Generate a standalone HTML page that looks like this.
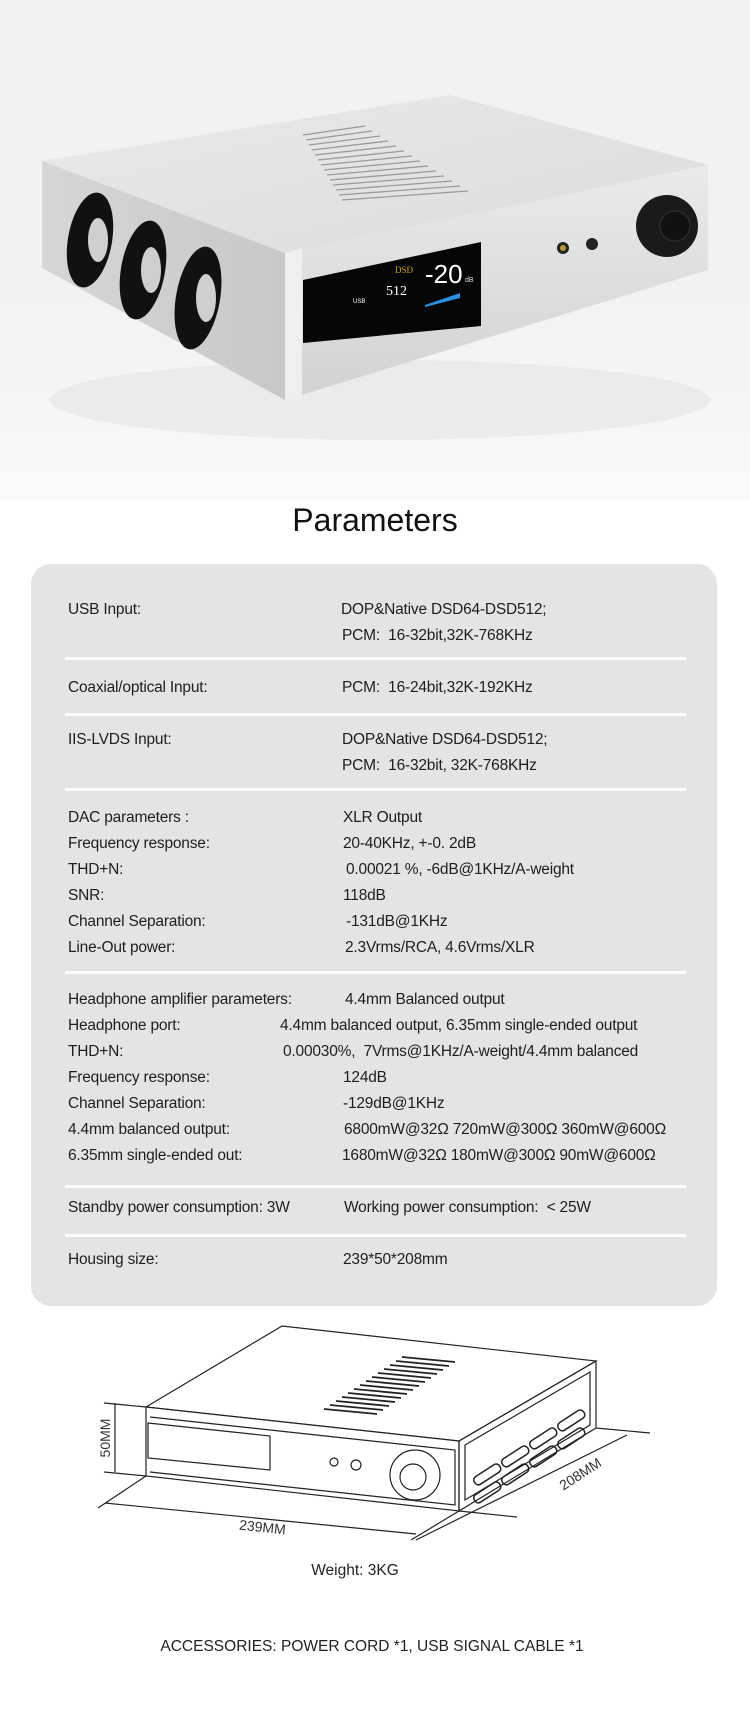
<!DOCTYPE html>
<html><head><meta charset="utf-8">
<style>
html,body{margin:0;padding:0;}
body{width:750px;height:1726px;position:relative;background:#fff;font-family:"Liberation Sans",sans-serif;color:#222;overflow:hidden;}
.hero{position:absolute;left:0;top:0;width:750px;height:500px;background:linear-gradient(#f1f1f1,#f3f3f3 70%,#fafafa);}
.title{position:absolute;left:0;width:750px;top:502px;text-align:center;font-size:32px;color:#111;}
.card{position:absolute;left:31px;top:564px;width:686px;height:742px;background:#e4e4e4;border-radius:20px;}
.t{position:absolute;font-size:15.5px;color:#1e1e1e;white-space:nowrap;transform:translateY(-50%);letter-spacing:-0.2px;}
.hr{position:absolute;left:34px;width:621px;height:3px;background:#fff;}
.cap{position:absolute;font-size:15.5px;color:#222;white-space:nowrap;transform:translate(-50%,-50%);}
</style></head><body>
<div class="hero">
<svg width="750" height="500" viewBox="0 0 750 500">
<defs>
<linearGradient id="top" x1="0" y1="0" x2="1" y2="1"><stop offset="0" stop-color="#e9e9eb"/><stop offset="1" stop-color="#dcdcde"/></linearGradient>
<linearGradient id="front" x1="0" y1="0" x2="0" y2="1"><stop offset="0" stop-color="#eaeaec"/><stop offset="1" stop-color="#d2d2d4"/></linearGradient>
<linearGradient id="side" x1="0" y1="0" x2="1" y2="0"><stop offset="0" stop-color="#d6d6d8"/><stop offset="1" stop-color="#c8c8ca"/></linearGradient>
</defs>
<ellipse cx="380" cy="400" rx="330" ry="40" fill="#e4e4e4" opacity="0.6"/>
<polygon points="42,161 450,95 708,165 285,253" fill="url(#top)"/>
<polygon points="285,253 708,165 708,270 285,400" fill="url(#front)"/>
<polygon points="42,161 285,253 285,400 42,268" fill="url(#side)"/>
<polygon points="285,253 302,248 302,398 285,400" fill="#efefef"/>
<g stroke="#9a9a9c" stroke-width="1.3">
<line x1="303" y1="135" x2="365" y2="126"/><line x1="306" y1="140" x2="372" y2="131"/><line x1="309" y1="145" x2="380" y2="136"/><line x1="312" y1="150" x2="388" y2="141"/><line x1="315" y1="155" x2="396" y2="146"/><line x1="318" y1="160" x2="404" y2="151"/><line x1="321" y1="165" x2="412" y2="156"/><line x1="324" y1="170" x2="420" y2="161"/><line x1="327" y1="175" x2="428" y2="166"/><line x1="330" y1="180" x2="436" y2="171"/><line x1="333" y1="185" x2="444" y2="176"/><line x1="336" y1="190" x2="452" y2="181"/><line x1="339" y1="195" x2="460" y2="186"/><line x1="342" y1="200" x2="468" y2="191"/>
</g>
<g fill="#111">
<ellipse cx="90" cy="240" rx="22" ry="48" transform="rotate(10 90 240)"/>
<ellipse cx="143" cy="270" rx="22" ry="50" transform="rotate(10 143 270)"/>
<ellipse cx="198" cy="298" rx="22" ry="52" transform="rotate(10 198 298)"/>
</g>
<g fill="#cfcfd1">
<ellipse cx="98" cy="240" rx="10" ry="22"/><ellipse cx="151" cy="270" rx="10" ry="23"/><ellipse cx="206" cy="298" rx="10" ry="24"/>
</g>
<polygon points="303,280 481,242 481,326 303,343" fill="#050608"/>
<text x="395" y="273" font-family="Liberation Serif" font-size="9" fill="#c8a628">DSD</text>
<text x="386" y="295" font-family="Liberation Serif" font-size="14" fill="#fff">512</text>
<text x="425" y="283" font-family="Liberation Sans" font-size="26" fill="#fff">-20</text>
<text x="465" y="282" font-size="7" fill="#ddd">dB</text>
<text x="353" y="303" font-size="6" fill="#fff">USB</text>
<polygon points="425,305 460,293 460,298 425,307" fill="#2b8fe0"/>
<circle cx="563" cy="248" r="6" fill="#222"/><circle cx="563" cy="248" r="3" fill="#b89a3a"/>
<circle cx="592" cy="244" r="6" fill="#222"/>
<circle cx="667" cy="226" r="31" fill="#1a1a1a"/><circle cx="675" cy="226" r="15" fill="#111" stroke="#333"/>
</svg>
</div>
<div class="title">Parameters</div>
<div class="card">
<div class="t" style="left:37px;top:46px">USB Input:</div>
<div class="t" style="left:310px;top:46px">DOP&amp;Native DSD64-DSD512;</div>
<div class="t" style="left:311px;top:72px">PCM:&nbsp; 16-32bit,32K-768KHz</div>
<div class="hr" style="top:93px"></div>
<div class="t" style="left:37px;top:124px">Coaxial/optical Input:</div>
<div class="t" style="left:311px;top:124px">PCM:&nbsp; 16-24bit,32K-192KHz</div>
<div class="hr" style="top:149px"></div>
<div class="t" style="left:37px;top:176px">IIS-LVDS Input:</div>
<div class="t" style="left:311px;top:176px">DOP&amp;Native DSD64-DSD512;</div>
<div class="t" style="left:311px;top:202px">PCM:&nbsp; 16-32bit, 32K-768KHz</div>
<div class="hr" style="top:224px"></div>
<div class="t" style="left:37px;top:254px">DAC parameters :</div>
<div class="t" style="left:312px;top:254px">XLR Output</div>
<div class="t" style="left:37px;top:280px">Frequency response:</div>
<div class="t" style="left:312px;top:280px">20-40KHz, +-0. 2dB</div>
<div class="t" style="left:37px;top:306px">THD+N:</div>
<div class="t" style="left:315px;top:306px">0.00021 %, -6dB@1KHz/A-weight</div>
<div class="t" style="left:37px;top:332px">SNR:</div>
<div class="t" style="left:312px;top:332px">118dB</div>
<div class="t" style="left:37px;top:358px">Channel Separation:</div>
<div class="t" style="left:315px;top:358px">-131dB@1KHz</div>
<div class="t" style="left:37px;top:384px">Line-Out power:</div>
<div class="t" style="left:314px;top:384px">2.3Vrms/RCA, 4.6Vrms/XLR</div>
<div class="hr" style="top:407px"></div>
<div class="t" style="left:37px;top:436px">Headphone amplifier parameters:</div>
<div class="t" style="left:314px;top:436px">4.4mm Balanced output</div>
<div class="t" style="left:37px;top:462px">Headphone port:</div>
<div class="t" style="left:249px;top:462px">4.4mm balanced output, 6.35mm single-ended output</div>
<div class="t" style="left:37px;top:488px">THD+N:</div>
<div class="t" style="left:252px;top:488px">0.00030%,&nbsp; 7Vrms@1KHz/A-weight/4.4mm balanced</div>
<div class="t" style="left:37px;top:514px">Frequency response:</div>
<div class="t" style="left:312px;top:514px">124dB</div>
<div class="t" style="left:37px;top:540px">Channel Separation:</div>
<div class="t" style="left:312px;top:540px">-129dB@1KHz</div>
<div class="t" style="left:37px;top:566px">4.4mm balanced output:</div>
<div class="t" style="left:313px;top:566px">6800mW@32Ω 720mW@300Ω 360mW@600Ω</div>
<div class="t" style="left:37px;top:592px">6.35mm single-ended out:</div>
<div class="t" style="left:311px;top:592px">1680mW@32Ω 180mW@300Ω 90mW@600Ω</div>
<div class="hr" style="top:621px"></div>
<div class="t" style="left:37px;top:644px">Standby power consumption: 3W</div>
<div class="t" style="left:313px;top:644px">Working power consumption:&nbsp; &lt; 25W</div>
<div class="hr" style="top:670px"></div>
<div class="t" style="left:37px;top:696px">Housing size:</div>
<div class="t" style="left:312px;top:696px">239*50*208mm</div>
</div>
<svg style="position:absolute;left:0;top:1310px" width="750" height="250" viewBox="0 1310 750 250">
<g fill="none" stroke="#222" stroke-width="1.2">
<polygon points="146,1407 282,1326 596,1361 459,1441"/>
<polygon points="146,1407 459,1441 459,1511 146,1476" fill="#fff"/>
<polygon points="459,1441 596,1361 596,1428 459,1511"/>
<polyline points="150,1417 455,1450 455,1505 150,1472"/>
<polygon points="148,1423 270,1436 270,1470 148,1458"/>
<circle cx="334" cy="1462" r="4"/><circle cx="356" cy="1465" r="5"/>
<circle cx="415" cy="1475" r="25"/><circle cx="413" cy="1477" r="13"/>
<polygon points="465,1445 590,1372 590,1425 465,1500"/>
<g stroke-width="1.5">
<rect x="472" y="1470" width="30" height="9" rx="4" transform="rotate(-33 487 1474)"/>
<rect x="500" y="1452" width="30" height="9" rx="4" transform="rotate(-33 515 1456)"/>
<rect x="528" y="1434" width="30" height="9" rx="4" transform="rotate(-33 543 1438)"/>
<rect x="556" y="1416" width="30" height="9" rx="4" transform="rotate(-33 571 1420)"/>
<rect x="472" y="1488" width="30" height="9" rx="4" transform="rotate(-33 487 1492)"/>
<rect x="500" y="1470" width="30" height="9" rx="4" transform="rotate(-33 515 1474)"/>
<rect x="528" y="1452" width="30" height="9" rx="4" transform="rotate(-33 543 1456)"/>
<rect x="556" y="1434" width="30" height="9" rx="4" transform="rotate(-33 571 1438)"/>
</g>
<line x1="115" y1="1403" x2="115" y2="1472"/><line x1="104" y1="1403" x2="146" y2="1407"/><line x1="104" y1="1472" x2="146" y2="1476"/>
<line x1="105" y1="1503" x2="416" y2="1534"/><line x1="98" y1="1508" x2="146" y2="1476"/><line x1="411" y1="1540" x2="459" y2="1511"/>
<line x1="416" y1="1540" x2="627" y2="1435"/><line x1="459" y1="1511" x2="517" y2="1517"/><line x1="596" y1="1428" x2="650" y2="1433"/>
</g>
<g stroke="#222" stroke-width="1.8">
<line x1="402" y1="1357" x2="455" y2="1362"/><line x1="396" y1="1361" x2="449" y2="1366"/><line x1="390" y1="1365" x2="443" y2="1370"/><line x1="384" y1="1369" x2="437" y2="1374"/><line x1="378" y1="1373" x2="431" y2="1378"/><line x1="372" y1="1377" x2="425" y2="1382"/><line x1="366" y1="1381" x2="419" y2="1386"/><line x1="360" y1="1385" x2="413" y2="1390"/><line x1="354" y1="1389" x2="407" y2="1394"/><line x1="348" y1="1393" x2="401" y2="1398"/><line x1="342" y1="1397" x2="395" y2="1402"/><line x1="336" y1="1401" x2="389" y2="1406"/><line x1="330" y1="1405" x2="383" y2="1410"/><line x1="324" y1="1409" x2="377" y2="1414"/>
</g>
<text x="110" y="1438" font-size="14" fill="#333" text-anchor="middle" transform="rotate(-90 110 1438)">50MM</text>
<text x="262" y="1532" font-size="14" fill="#333" text-anchor="middle" transform="rotate(6 262 1532)">239MM</text>
<text x="583" y="1478" font-size="14" fill="#333" text-anchor="middle" transform="rotate(-33 583 1478)">208MM</text>
</svg>
<div class="cap" style="left:355px;top:1571px">Weight: 3KG</div>
<div class="cap" style="left:372px;top:1647px">ACCESSORIES: POWER CORD *1, USB SIGNAL CABLE *1</div>
</body></html>
